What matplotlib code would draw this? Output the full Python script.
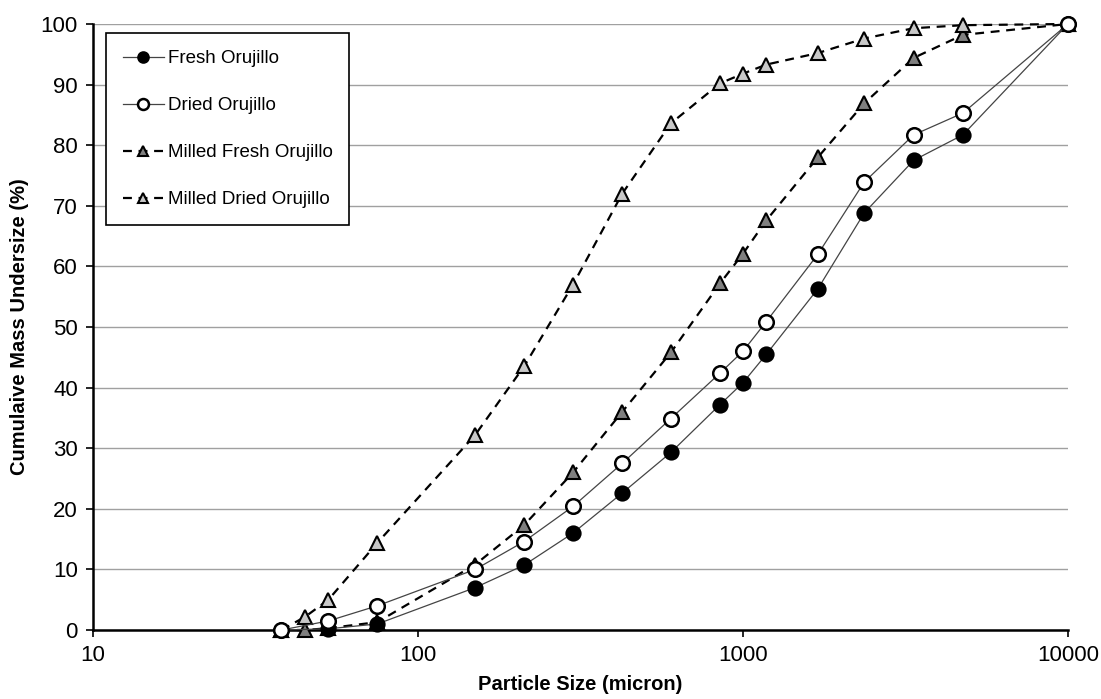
import matplotlib.pyplot as plt
from matplotlib.ticker import FixedLocator, NullLocator

plt.rcParams['font.family'] = ['Liberation Sans', 'DejaVu Sans']

# sieve sizes (micron)
SIZES_ORUJILLO = [38, 53, 75, 150, 212, 300, 425, 600, 850, 1000, 1180, 1700, 2360, 3350, 4750, 10000]
SIZES_MILLED = [38, 45, 53, 75, 150, 212, 300, 425, 600, 850, 1000, 1180, 1700, 2360, 3350, 4750, 10000]

fresh = [0, 0.2, 1.0, 7.0, 10.7, 16.0, 22.6, 29.3, 37.2, 40.8, 45.5, 56.3, 68.8, 77.5, 81.7, 100]
dried = [0, 1.5, 4.0, 10.0, 14.6, 20.4, 27.5, 34.9, 42.4, 46.0, 50.9, 62.0, 73.9, 81.7, 85.3, 100]
milled_fresh = [0, 0, 0.3, 1.3, 10.8, 17.3, 26.0, 36.0, 45.8, 57.2, 62.1, 67.6, 78.0, 86.9, 94.4, 98.2, 100]
milled_dried = [0, 2.2, 5.0, 14.4, 32.2, 43.5, 57.0, 72.0, 83.6, 90.2, 91.8, 93.3, 95.2, 97.6, 99.3, 99.8, 100]


def main():
    fig = plt.figure(figsize=(11.01, 6.99), dpi=100)
    ax = fig.add_axes([0.0845, 0.0987, 0.8855, 0.867])

    ax.plot(SIZES_MILLED, milled_fresh, '--', color='black', lw=1.6, dashes=(4, 3),
            marker='^', ms=10.5, mfc='#7f7f7f', mec='black', mew=1.5,
            label='Milled Fresh Orujillo', zorder=3, clip_on=False)
    ax.plot(SIZES_MILLED, milled_dried, '--', color='black', lw=1.6, dashes=(4, 3),
            marker='^', ms=10.5, mfc='#c8c8c8', mec='black', mew=1.5,
            label='Milled Dried Orujillo', zorder=3, clip_on=False)
    ax.plot(SIZES_ORUJILLO, fresh, '-', color='#444444', lw=0.9,
            marker='o', ms=10.5, mfc='black', mec='black', mew=1.2,
            label='Fresh Orujillo', zorder=4, clip_on=False)
    ax.plot(SIZES_ORUJILLO, dried, '-', color='#444444', lw=0.9,
            marker='o', ms=10.5, mfc='white', mec='black', mew=1.8,
            label='Dried Orujillo', zorder=4, clip_on=False)

    ax.set_xscale('log')
    ax.set_xlim(10, 10000)
    ax.set_ylim(0, 100)
    ax.xaxis.set_major_locator(FixedLocator([10, 100, 1000, 10000]))
    ax.xaxis.set_minor_locator(NullLocator())
    ax.set_xticklabels(['10', '100', '1000', '10000'])
    ax.set_yticks(range(0, 101, 10))

    ax.yaxis.grid(True, color='#a0a0a0', lw=1.0)
    ax.set_axisbelow(True)
    for s in ['top', 'right']:
        ax.spines[s].set_visible(False)
    for s in ['left', 'bottom']:
        ax.spines[s].set_linewidth(1.8)
        ax.spines[s].set_zorder(2)
    ax.tick_params(axis='both', labelsize=16, length=5, width=1.2, pad=6)

    ax.set_xlabel('Particle Size (micron)', fontsize=14.5, fontweight='bold', labelpad=6)
    ax.set_ylabel('Cumulaive Mass Undersize (%)', fontsize=14.5, fontweight='bold', labelpad=8)

    # legend order as in the reference
    handles, labels = ax.get_legend_handles_labels()
    order = [2, 3, 0, 1]
    leg = ax.legend([handles[i] for i in order], [labels[i] for i in order],
                    loc='upper left', bbox_to_anchor=(0.013, 0.985), borderaxespad=0,
                    fontsize=13.5, frameon=True, fancybox=False, edgecolor='black',
                    framealpha=1, markerscale=0.75, handlelength=2.2, handletextpad=0.2,
                    labelspacing=1.6, borderpad=0.9)
    leg.get_frame().set_linewidth(1.2)
    leg.set_zorder(6)

    plt.savefig('out.png', dpi=100)


if __name__ == "__main__":
    main()
